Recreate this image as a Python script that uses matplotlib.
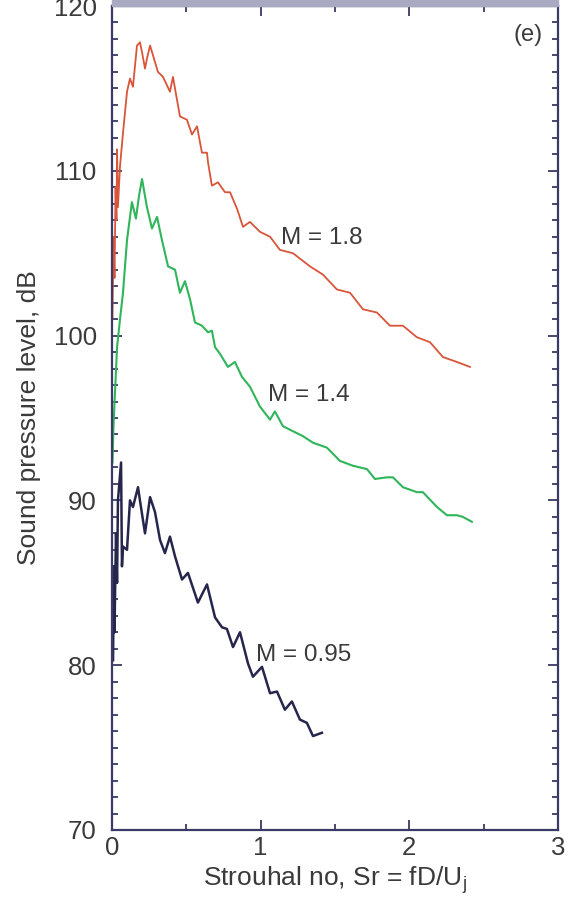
import matplotlib.pyplot as plt
from matplotlib.patches import Rectangle
from matplotlib.ticker import MultipleLocator

# values
sr_18 = [0.003, 0.010, 0.017, 0.024, 0.030, 0.034, 0.040, 0.054, 0.074, 0.101,
         0.121, 0.141, 0.168, 0.188, 0.202, 0.222, 0.235, 0.256, 0.276, 0.309,
         0.343, 0.390, 0.410, 0.457, 0.504, 0.538, 0.572, 0.605, 0.639, 0.646,
         0.672, 0.713, 0.760, 0.794, 0.841, 0.881, 0.928, 0.995, 1.063, 1.130,
         1.217, 1.332, 1.419, 1.513, 1.601, 1.688, 1.782, 1.870, 1.957, 2.051,
         2.139, 2.226, 2.320, 2.408]
spl_18 = [101.0, 106.0, 103.5, 109.0, 107.0, 111.3, 107.8, 110.3, 112.3, 114.8,
          115.6, 115.1, 117.6, 117.8, 117.2, 116.2, 116.8, 117.6, 117.0, 116.0,
          115.7, 114.8, 115.7, 113.3, 113.1, 112.2, 112.7, 111.1, 111.1, 110.5,
          109.1, 109.3, 108.7, 108.7, 107.7, 106.6, 106.9, 106.3, 106.0, 105.2,
          105.0, 104.2, 103.7, 102.8, 102.6, 101.6, 101.4, 100.6, 100.6, 99.9,
          99.6, 98.7, 98.4, 98.1]

sr_14 = [0.003, 0.010, 0.020, 0.034, 0.054, 0.074, 0.101, 0.134, 0.161, 0.182,
         0.202, 0.235, 0.269, 0.303, 0.336, 0.377, 0.424, 0.457, 0.491, 0.525,
         0.558, 0.605, 0.646, 0.672, 0.693, 0.726, 0.780, 0.827, 0.874, 0.928,
         0.995, 1.063, 1.096, 1.150, 1.217, 1.284, 1.352, 1.446, 1.533, 1.621,
         1.715, 1.769, 1.849, 1.890, 1.957, 2.051, 2.091, 2.186, 2.253, 2.320,
         2.360, 2.421]
spl_14 = [92.3, 94.5, 96.5, 99.3, 101.0, 102.6, 105.8, 108.1, 107.1, 108.5,
          109.5, 107.8, 106.5, 107.2, 105.8, 104.2, 104.0, 102.6, 103.3, 102.2,
          100.8, 100.6, 100.2, 100.3, 99.3, 98.9, 98.1, 98.4, 97.5, 96.9,
          95.7, 94.9, 95.4, 94.5, 94.2, 93.9, 93.5, 93.2, 92.4, 92.1,
          91.9, 91.3, 91.4, 91.4, 90.8, 90.5, 90.5, 89.6, 89.1, 89.1,
          89.0, 88.7]

sr_095 = [0.007, 0.013, 0.017, 0.020, 0.027, 0.034, 0.040, 0.061, 0.067, 0.074,
          0.101, 0.121, 0.141, 0.175, 0.188, 0.222, 0.256, 0.289, 0.323, 0.356,
          0.390, 0.424, 0.471, 0.511, 0.578, 0.639, 0.693, 0.740, 0.773, 0.814,
          0.861, 0.915, 0.948, 1.009, 1.063, 1.110, 1.163, 1.210, 1.264, 1.311,
          1.352, 1.412]
spl_095 = [80.3, 86.0, 82.0, 84.0, 88.0, 85.0, 90.0, 92.3, 86.0, 87.2,
           87.0, 90.0, 89.6, 90.8, 90.0, 88.0, 90.2, 89.3, 87.6, 86.8,
           87.8, 86.6, 85.2, 85.6, 83.8, 84.9, 82.9, 82.3, 82.2, 81.1,
           82.0, 80.1, 79.3, 79.9, 78.3, 78.4, 77.3, 77.8, 76.7, 76.5,
           75.7, 75.9]

labels = ["M = 1.8", "M = 1.4", "M = 0.95"]
label_pos = [(1.14, 105.9), (1.05, 96.4), (0.97, 80.6)]


def main():
    plt.rcParams['font.family'] = ['Liberation Sans', 'DejaVu Sans']
    spine_col = "#3a3a66"
    text_col = "#3a3a3a"

    fig = plt.figure(figsize=(5.72, 8.97), dpi=100)
    ax = fig.add_axes([0.1958, 0.0747, 0.7797, 0.9186])

    # grey strip left over from the panel above
    fig.patches.append(Rectangle((0.1958, 0.9933), 0.7797, 0.0067,
                                 transform=fig.transFigure, color="#a9a9c2",
                                 zorder=0))

    ax.plot(sr_18, spl_18, color="#d9553a", lw=1.3)
    ax.plot(sr_14, spl_14, color="#2fb55a", lw=1.5)
    ax.plot(sr_095, spl_095, color="#26264d", lw=1.8)

    for txt, (x, y) in zip(labels, label_pos):
        ax.text(x, y, txt, fontsize=17.5, color=text_col, va="center", ha="left")

    ax.text(0.965, 0.978, "(e)", transform=ax.transAxes, fontsize=17,
            color=text_col, ha="right", va="top")

    ax.set_xlim(0, 3)
    ax.set_ylim(70, 120)
    ax.xaxis.set_major_locator(MultipleLocator(1))
    ax.xaxis.set_minor_locator(MultipleLocator(0.5))
    ax.yaxis.set_major_locator(MultipleLocator(10))
    ax.yaxis.set_minor_locator(MultipleLocator(1))

    ax.tick_params(which="both", direction="in", top=True, right=True,
                   color=spine_col, width=1.3, labelcolor=text_col,
                   labelsize=18.5)
    ax.tick_params(which="major", length=7)
    ax.tick_params(which="minor", length=4)
    ax.tick_params(axis="y", pad=11)
    ax.tick_params(axis="x", pad=4)

    for s in ax.spines.values():
        s.set_color(spine_col)
        s.set_linewidth(1.6)

    ax.set_xlabel("Strouhal no, Sr = fD/U$_\\mathregular{j}$", fontsize=19,
                  color=text_col, labelpad=3)
    ax.set_ylabel("Sound pressure level, dB", fontsize=19, color=text_col,
                  labelpad=9)

    fig.savefig("out.png", dpi=100)


if __name__ == "__main__":
    main()
